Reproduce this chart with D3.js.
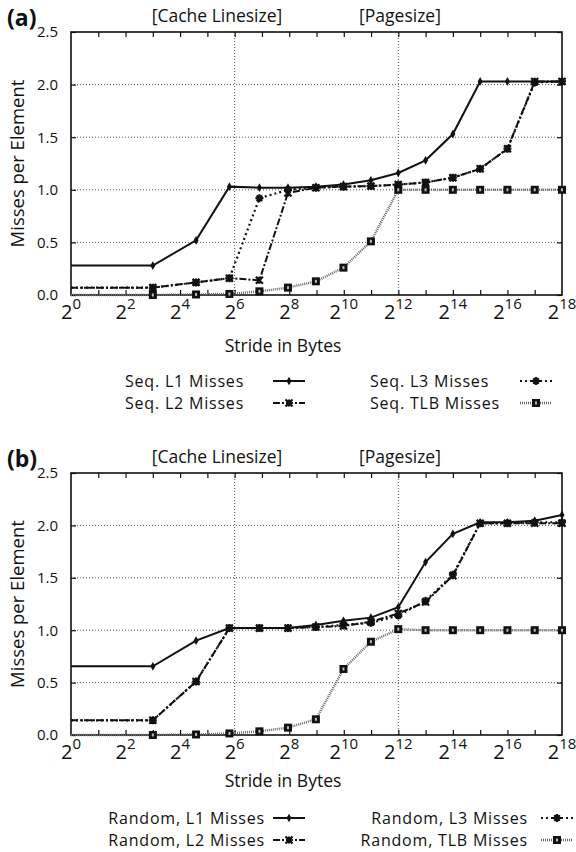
<!DOCTYPE html>
<html><head><meta charset="utf-8">
<script src="https://cdn.jsdelivr.net/npm/d3@7"></script>
<style>
body{margin:0;background:#fff}
svg{display:block}
text{font-family:"Open Sans",sans-serif;fill:#111}
</style>
</head><body><svg id="c" width="576" height="852"></svg>
<script>
// ---- data ----
const strideBytes = [1, 8, 24, 56, 120, 248, 504, 1016, 2040, 4088, 8184, 16376, 32760, 65528, 131064, 262136];

const seqL1  = [0.28, 0.28, 0.52, 1.03, 1.02, 1.02, 1.03, 1.05, 1.09, 1.16, 1.28, 1.53, 2.03, 2.03, 2.03, 2.03];
const seqL2  = [0.07, 0.07, 0.12, 0.16, 0.14, 0.97, 1.02, 1.03, 1.035, 1.05, 1.07, 1.115, 1.20, 1.39, 2.03, 2.03];
const seqL3  = [0.07, 0.07, 0.12, 0.16, 0.92, 1.00, 1.02, 1.03, 1.035, 1.05, 1.07, 1.115, 1.20, 1.39, 2.02, 2.03];
const seqTLB = [0.0, 0.0, 0.005, 0.01, 0.035, 0.07, 0.13, 0.26, 0.51, 1.0, 1.0, 1.0, 1.0, 1.0, 1.0, 1.0];

const rndL1  = [0.655, 0.655, 0.90, 1.02, 1.02, 1.02, 1.05, 1.09, 1.12, 1.22, 1.65, 1.92, 2.03, 2.03, 2.045, 2.10];
const rndL2  = [0.14, 0.14, 0.51, 1.02, 1.02, 1.02, 1.03, 1.04, 1.08, 1.16, 1.27, 1.52, 2.02, 2.02, 2.02, 2.02];
const rndL3  = [0.14, 0.14, 0.51, 1.02, 1.02, 1.02, 1.03, 1.05, 1.07, 1.14, 1.28, 1.53, 2.02, 2.02, 2.03, 2.03];
const rndTLB = [0.0, 0.0, 0.005, 0.015, 0.035, 0.07, 0.15, 0.63, 0.89, 1.01, 1.0, 1.0, 1.0, 1.0, 1.0, 1.0];

const seqNames = ["Seq. L1 Misses", "Seq. L2 Misses", "Seq. L3 Misses", "Seq. TLB Misses"];
const rndNames = ["Random, L1 Misses", "Random, L2 Misses", "Random, L3 Misses", "Random, TLB Misses"];

const yTicks = [0, 0.5, 1.0, 1.5, 2.0, 2.5];
const yGrid = [0.5, 1.0, 1.5, 2.0];
const xLabelExps = [0, 2, 4, 6, 8, 10, 12, 14, 16, 18];
const xTickExps = [1, 2, 3, 4, 5, 6, 7, 8, 9, 10, 11, 12, 13, 14, 15, 16, 17];
const xGridExps = [6, 12];
const headerTexts = ["[Cache Linesize]", "[Pagesize]"];
const yTitle = "Misses per Element";
const xTitle = "Stride in Bytes";

// ---- styles ----
const lineStyles = [
  {dash: null, width: 2, color: "#111", marker: "dot"},
  {dash: "7,2,2,2", width: 2, color: "#111", marker: "x"},
  {dash: "2,3", width: 2.2, color: "#111", marker: "ast"},
  {dash: "1,1", width: 2.4, color: "#666", marker: "sq"}
];

const svg = d3.select("#c");

function drawMarker(g, kind, x, y) {
  if (kind === "dot") {
    g.append("path").attr("d", d3.symbol().type(d3.symbolDiamond).size(22)())
      .attr("transform", `translate(${x},${y})`).attr("fill", "#111");
  } else if (kind === "x") {
    const s = 3.5;
    g.append("path").attr("d", `M${x-s},${y-s}L${x+s},${y+s}M${x-s},${y+s}L${x+s},${y-s}M${x},${y-s}L${x},${y+s}`)
      .attr("stroke", "#111").attr("stroke-width", 2.2).attr("fill", "none");
  } else if (kind === "ast") {
    const s = 4;
    g.append("path").attr("d", `M${x-s},${y}L${x+s},${y}M${x-s*0.7},${y-s*0.7}L${x+s*0.7},${y+s*0.7}M${x-s*0.7},${y+s*0.7}L${x+s*0.7},${y-s*0.7}M${x},${y-s}L${x},${y+s}`)
      .attr("stroke", "#111").attr("stroke-width", 2.2).attr("fill", "none");
  } else if (kind === "sq") {
    g.append("rect").attr("x", x-4).attr("y", y-4).attr("width", 8).attr("height", 8).attr("fill", "#111");
    g.append("rect").attr("x", x-1).attr("y", y-1.5).attr("width", 2).attr("height", 3).attr("fill", "#bbb");
  }
}

function panel(cfg) {
  const x = d3.scaleLog().base(2).domain([1, Math.pow(2, 18)]).range([cfg.left, cfg.right]);
  const y = d3.scaleLinear().domain([0, 2.5]).range([cfg.bottom, cfg.top]);
  const g = svg.append("g");

  // grid
  g.selectAll(null).data(yGrid).enter().append("line")
    .attr("x1", cfg.left).attr("x2", cfg.right).attr("y1", d => y(d)).attr("y2", d => y(d))
    .attr("stroke", "#555").attr("stroke-width", 1).attr("stroke-dasharray", "1,2");
  g.selectAll(null).data(xGridExps).enter().append("line")
    .attr("x1", d => x(Math.pow(2, d))).attr("x2", d => x(Math.pow(2, d)))
    .attr("y1", cfg.top).attr("y2", cfg.bottom)
    .attr("stroke", "#555").attr("stroke-width", 1).attr("stroke-dasharray", "1,2");

  // axes with inward ticks
  const yAxisL = d3.axisLeft(y).tickValues(yTicks).tickSize(-5).tickPadding(13).tickFormat(d3.format(".1f"));
  const gl = g.append("g").attr("transform", `translate(${cfg.left},0)`).call(yAxisL);
  gl.select(".domain").remove();
  gl.selectAll("text").attr("font-size", 15).attr("font-family", "Open Sans").attr("fill", "#111");
  gl.selectAll("line").attr("stroke", "#111").attr("stroke-width", 1.2);

  const yAxisR = d3.axisRight(y).tickValues(yTicks).tickSize(-5).tickFormat("");
  const gr = g.append("g").attr("transform", `translate(${cfg.right},0)`).call(yAxisR);
  gr.select(".domain").remove();
  gr.selectAll("line").attr("stroke", "#111").attr("stroke-width", 1.2);

  const tickVals = xTickExps.map(e => Math.pow(2, e));
  const xAxisB = d3.axisBottom(x).tickValues(tickVals).tickSize(-5).tickFormat("");
  const gb = g.append("g").attr("transform", `translate(0,${cfg.bottom})`).call(xAxisB);
  gb.select(".domain").remove();
  gb.selectAll("line").attr("stroke", "#111").attr("stroke-width", 1.2);
  const xAxisT = d3.axisTop(x).tickValues(tickVals).tickSize(-5).tickFormat("");
  const gt = g.append("g").attr("transform", `translate(0,${cfg.top})`).call(xAxisT);
  gt.select(".domain").remove();
  gt.selectAll("line").attr("stroke", "#111").attr("stroke-width", 1.2);

  // x labels 2^n
  xLabelExps.forEach(e => {
    const t = g.append("text").attr("x", x(Math.pow(2, e))).attr("y", cfg.bottom + 24)
      .attr("text-anchor", "middle").attr("font-size", 20);
    t.append("tspan").text("2");
    t.append("tspan").attr("dy", -10).attr("font-size", 15).text(String(e));
  });

  // frame
  g.append("rect").attr("x", cfg.left).attr("y", cfg.top)
    .attr("width", cfg.right - cfg.left).attr("height", cfg.bottom - cfg.top)
    .attr("fill", "none").attr("stroke", "#111").attr("stroke-width", 1.6);

  // series
  cfg.series.forEach((vals, si) => {
    const st = lineStyles[si];
    const pts = strideBytes.map((s, i) => [x(s), y(vals[i])]);
    const p = g.append("path").attr("d", d3.line()(pts)).attr("fill", "none")
      .attr("stroke", st.color).attr("stroke-width", st.width);
    if (st.dash) p.attr("stroke-dasharray", st.dash);
  });
  cfg.series.forEach((vals, si) => {
    const st = lineStyles[si];
    strideBytes.forEach((s, i) => { if (i > 0) drawMarker(g, st.marker, x(s), y(vals[i])); });
  });

  // tag
  g.append("text").attr("x", 7).attr("y", cfg.top - 6).attr("font-family", "Liberation Serif")
    .attr("font-weight", "bold").attr("font-size", 23).text(cfg.tag);

  // headers
  headerTexts.forEach((h, i) => {
    g.append("text").attr("x", cfg.headerX[i]).attr("y", cfg.top - 10)
      .attr("text-anchor", "middle").attr("font-size", 17.5).text(h);
  });

  // titles
  g.append("text").attr("transform", `translate(${cfg.yTitleX},${(cfg.top + cfg.bottom) / 2}) rotate(-90)`)
    .attr("text-anchor", "middle").attr("font-size", 18.5).text(yTitle);
  g.append("text").attr("x", 283).attr("y", cfg.xTitleY)
    .attr("text-anchor", "middle").attr("font-size", 17.5).text(xTitle);

  // legend
  const L = cfg.legend;
  cfg.names.forEach((name, i) => {
    const col = Math.floor(i / 2), row = i % 2;
    const by = L.rows[row];
    g.append("text").attr("x", L.textX[col]).attr("y", by)
      .attr("text-anchor", L.anchor).attr("font-size", 16).attr("letter-spacing", 0.8).text(name);
    const st = lineStyles[i];
    const x0 = L.sample[col][0], x1 = L.sample[col][1], ly = by - 6;
    const ln = g.append("line").attr("x1", x0).attr("x2", x1).attr("y1", ly).attr("y2", ly)
      .attr("stroke", st.color).attr("stroke-width", st.width);
    if (st.dash) ln.attr("stroke-dasharray", st.dash);
    drawMarker(g, st.marker, (x0 + x1) / 2, ly);
  });
}

panel({
  top: 32, bottom: 295, left: 71, right: 562, tag: "(a)",
  headerX: [217, 400], yTitleX: 24, xTitleY: 352,
  series: [seqL1, seqL2, seqL3, seqTLB], names: seqNames,
  legend: {anchor: "start", textX: [125, 370], rows: [387, 409], sample: [[273, 305], [520, 552]]}
});
panel({
  top: 473, bottom: 735, left: 71, right: 562, tag: "(b)",
  headerX: [217, 400], yTitleX: 24, xTitleY: 787,
  series: [rndL1, rndL2, rndL3, rndTLB], names: rndNames,
  legend: {anchor: "end", textX: [265, 528], rows: [824, 846], sample: [[273, 305], [541, 573]]}
});
</script>
</body></html>
